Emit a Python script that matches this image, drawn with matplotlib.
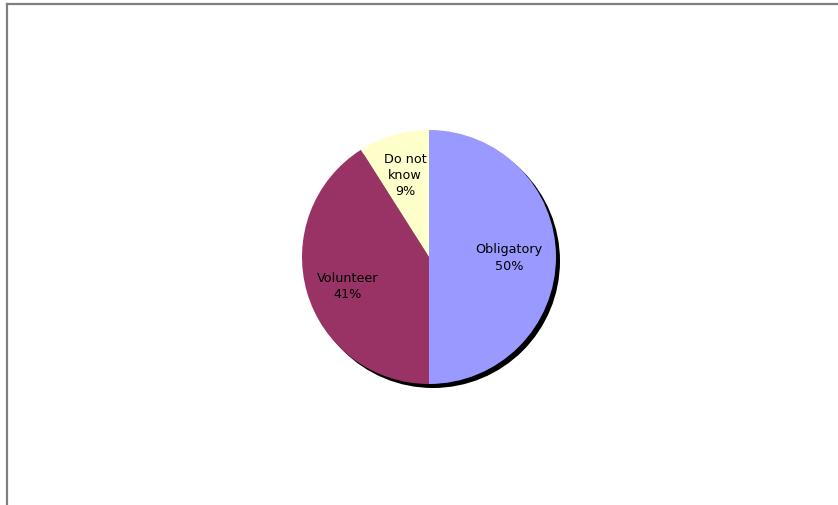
import matplotlib
matplotlib.use("Agg")
import numpy as np
import matplotlib.pyplot as plt
from matplotlib.lines import Line2D
from matplotlib.patches import Circle

categories = ["Obligatory", "Volunteer", "Do not\nknow"]
values = [50, 41, 9]
colors = ["#9999FF", "#993366", "#FFFFCC"]
label_radius = [0.63, 0.67, 0.68]

W, H, DPI = 838, 506, 100
fig = plt.figure(figsize=(W / DPI, H / DPI), dpi=DPI)
fig.patch.set_facecolor("white")

# frame lines along the top and left edges
fig.add_artist(Line2D([7 / W, 7 / W], [0, 1 - 5 / H], transform=fig.transFigure,
                      color="#7f7f7f", linewidth=1.6))
fig.add_artist(Line2D([7 / W, 1], [1 - 5 / H, 1 - 5 / H], transform=fig.transFigure,
                      color="#7f7f7f", linewidth=1.6))

cx, cy, half = 429, H - 258, 150
ax = fig.add_axes([(cx - half) / W, (cy - half) / H, 2 * half / W, 2 * half / H])
r_px = 127
lim = half / r_px

# drop shadow behind the pie
ax.add_patch(Circle((4 / r_px, -4 / r_px), 1.0, facecolor="black", edgecolor="none", zorder=0))

wedges = ax.pie(values, colors=colors, startangle=90, counterclock=False, radius=1.0,
                wedgeprops=dict(edgecolor="none", linewidth=0))[0]

total = sum(values)
for w, name, v, r in zip(wedges, categories, values, label_radius):
    mid = np.deg2rad((w.theta1 + w.theta2) / 2)
    ax.text(r * np.cos(mid), r * np.sin(mid) - (0.04 if name == "Volunteer" else 0),
            f"{name}\n{100 * v / total:.0f}%",
            fontsize=9.2, color="black", family="DejaVu Sans",
            ha="center", va="center", linespacing=1.3)

ax.set_xlim(-lim, lim)
ax.set_ylim(-lim, lim)
ax.set_aspect("equal")
ax.axis("off")

fig.savefig("out.png", dpi=DPI, facecolor="white")
